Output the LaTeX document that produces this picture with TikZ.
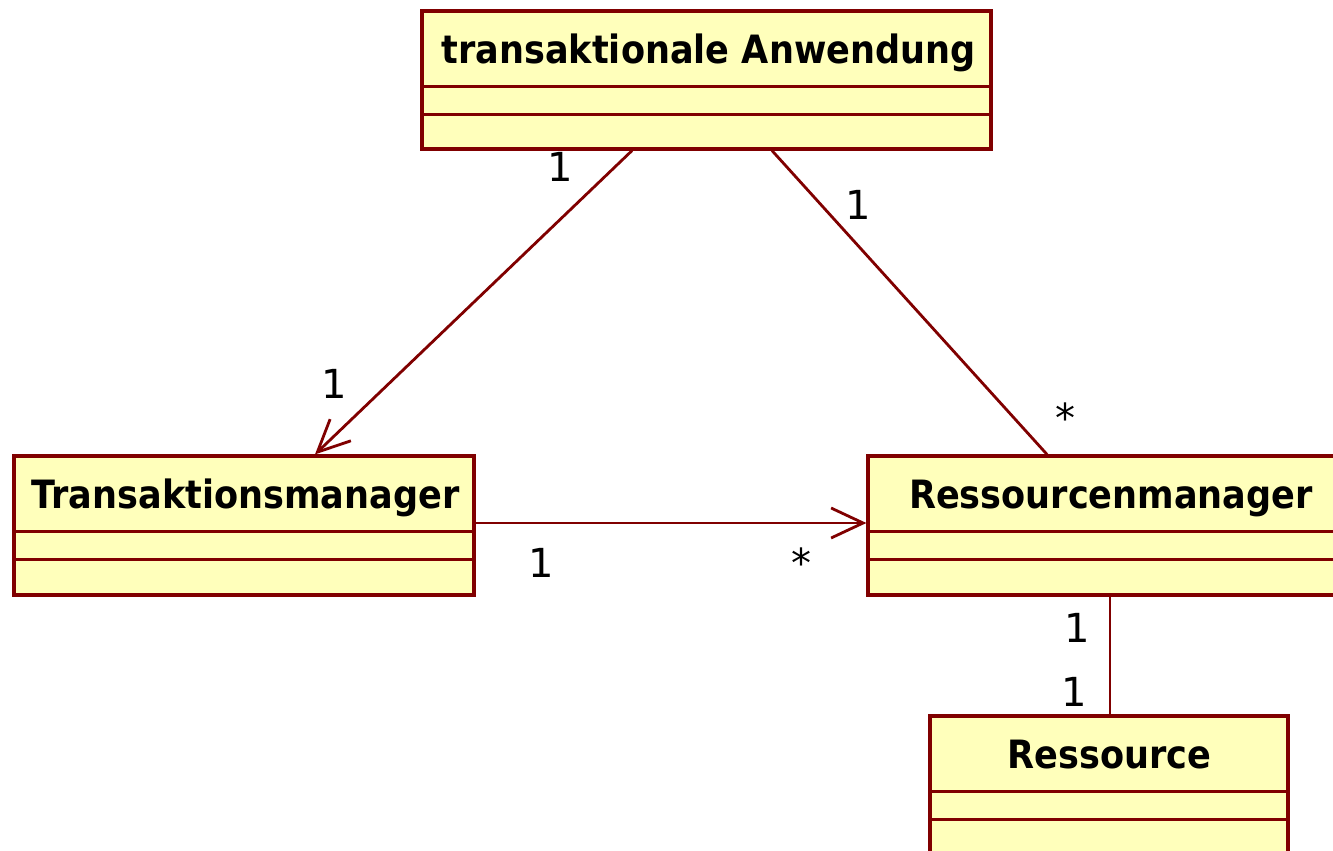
\documentclass[tikz,border=0pt]{standalone}
\usepackage{fontspec}
\setmainfont{DejaVu Sans}
\newfontfamily\classfont[FakeStretch=0.9]{DejaVu Sans}
\usetikzlibrary{arrows.meta,calc}

\definecolor{umlborder}{RGB}{128,0,0}
\definecolor{umlfill}{RGB}{255,255,187}

\tikzset{
  umlclass/.style={draw=umlborder, fill=umlfill, line width=3.2pt,
    rectangle, inner sep=0pt, minimum width=#1},
  classname/.style={inner sep=0pt, anchor=base, font=\classfont\bfseries\fontsize{39}{46}\selectfont},
  divider/.style={draw=umlborder, line width=3.2pt},
  assoc/.style={draw=umlborder, line width=2.8pt},
  navarrow/.style={-{Straight Barb[length=32pt,width=30pt,line width=2.8pt]}},
  mult/.style={inner sep=0pt, anchor=base, font=\fontsize{40}{48}\selectfont}
}

\begin{document}
\begin{tikzpicture}[x=1pt, y=-1pt]
  \useasboundingbox (0,0) rectangle (1333,851);
  \clip (0,0) rectangle (1333,851);

  % class boxes
  \node[umlclass=569pt, minimum height=138pt] (app) at (706.5,80) {};
  \node[umlclass=460pt, minimum height=139pt] (tm) at (244,525.5) {};
  \node[umlclass=486pt, minimum height=139pt] (rm) at (1111,525.5) {};
  \node[umlclass=358pt, minimum height=170pt] (res) at (1109,801) {};

  % compartment dividers
  \foreach \cls in {app,tm,rm,res} {
    \draw[divider] ($(\cls.north west)+(0,77)$) -- ($(\cls.north east)+(0,77)$);
    \draw[divider] ($(\cls.north west)+(0,105)$) -- ($(\cls.north east)+(0,105)$);
  }

  % class names, placed on their baselines
  \node[classname] (appname) at ($(app.north)+(2,54)$) {transaktionale Anwendung};
  \node[classname] (tmname) at ($(tm.north)+(1.5,54)$) {Transaktionsmanager};
  \node[classname] (rmname) at ($(rm.north)+(0,54)$) {Ressourcenmanager};
  \node[classname] (resname) at ($(res.north)+(0.5,54)$) {Ressource};

  % associations
  \draw[assoc, navarrow] ($(app.south)+(-74.5,0)$) -- ($(tm.north)+(71,0)$);
  \draw[assoc] ($(app.south)+(65.5,0)$) -- ($(rm.north)+(-64,0)$);
  \draw[assoc, navarrow] ($(tm.east)+(0,-2.5)$) -- ($(rm.west)+(0,-2.5)$);
  \draw[assoc] ($(rm.south)+(-1,0)$) -- ($(res.north)+(1,0)$);

  % multiplicities
  \node[mult] (m1) at (560,181) {1};
  \node[mult] (m2) at (858,219) {1};
  \node[mult] (m3) at (334,398) {1};
  \node[mult] (m4) at (1065,432) {*};
  \node[mult] (m5) at (541,577) {1};
  \node[mult] (m6) at (801,577) {*};
  \node[mult] (m7) at (1077,642) {1};
  \node[mult] (m8) at (1074,706) {1};
\end{tikzpicture}
\end{document}
